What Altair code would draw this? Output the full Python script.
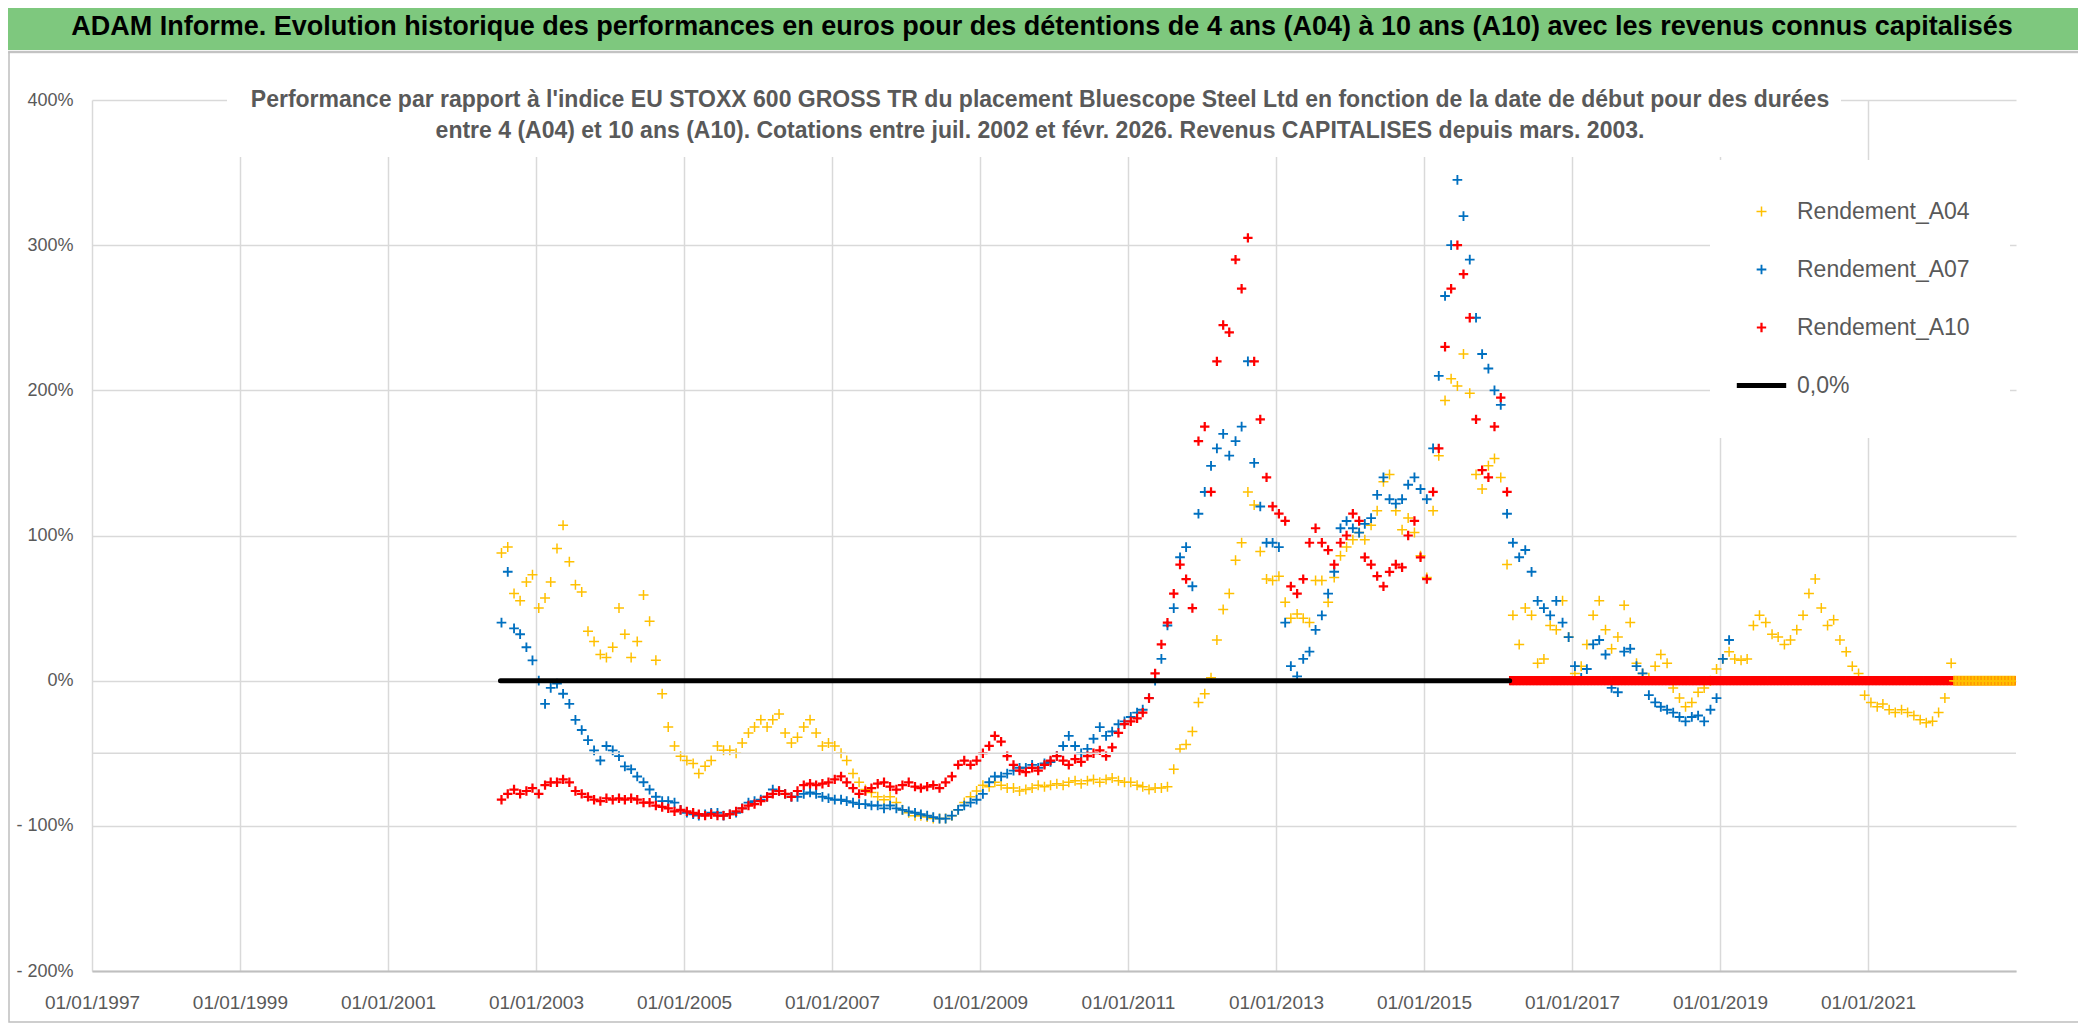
import altair as alt
import pandas as pd

# ---------------- data ----------------
TITLE = ("ADAM Informe. Evolution historique des performances en euros pour des "
         "détentions de 4 ans (A04) à 10 ans (A10) avec les revenus connus capitalisés")
SUB1 = ("Performance par rapport à l'indice EU STOXX 600 GROSS TR  du placement Bluescope "
        "Steel Ltd en fonction de la date de début pour des durées")
SUB2 = ("entre 4 (A04) et 10 ans (A10). Cotations entre juil. 2002 et févr. 2026. "
        "Revenus CAPITALISES depuis mars. 2003.")

SERIES = ["Rendement_A04", "Rendement_A07", "Rendement_A10", "0,0%"]
COLORS = ["#FFC000", "#0070C0", "#FF0000", "#000000"]

START = "2002-07-01"  # first monthly start date of every series

# Rendement_A04 (%), monthly from 2002-07
a04 = [88, 92, 60, 55, 68, 73,
       50, 57, 68, 91, 107, 82, 66, 61, 34, 27, 18, 16,
       23, 50, 32, 16, 27, 59, 41, 14, -9, -32, -45, -52,
       -55, -57, -64, -59, -55, -45, -48, -48, -50, -43, -36, -32,
       -27, -32, -27, -23, -36, -43, -39, -32, -27, -36, -45, -43,
       -45, -50, -55, -64, -70, -75, -77, -80, -82, -80, -84, -89,
       -91, -93, -93, -94, -95, -95, -95, -93, -89, -84, -80, -76,
       -72, -73, -70, -72, -74, -74, -76, -75, -74, -72, -73, -72,
       -71, -72, -70, -69, -71, -69, -68, -70, -68, -67, -69, -70,
       -70, -72, -73, -75, -74, -74, -73, -61, -47, -44, -35, -15,
       -9, 2, 28, 49, 60, 83, 95, 130, 121, 89, 70, 69,
       72, 54, 43, 46, 43, 40, 69, 69, 54, 71, 86, 92,
       97, 102, 97, 107, 117, 137, 142, 117, 104, 112, 102, 86,
       71, 117, 155, 193, 208, 203, 225, 198, 142, 132, 148, 153,
       140, 80, 45, 25, 50, 45, 12, 15, 38, 35, 55, 30,
       5, 10, 25, 45, 55, 35, 22, 30, 52, 40, 12, 5,
       2, 10, 18, 12, -5, -12, -18, -15, -8, -5, 0, 8,
       15, 20, 15, 14, 15, 38, 45, 40, 32, 30, 25, 28,
       35, 45, 60, 70, 50, 38, 42, 28, 20, 10, 5, -10,
       -15, -18, -16, -20, -22, -20, -22, -24, -27, -29, -28, -22,
       -12, 12]

# Rendement_A07 (%), monthly from 2002-07
a07 = [40, 75, 36, 32, 23, 14,
       0, -16, -5, -2, -9, -16, -27, -34, -41, -48, -55, -45,
       -48, -52, -59, -61, -66, -70, -75, -80, -83, -83, -84, -89,
       -91, -92, -93, -92, -91, -91, -93, -92, -91, -88, -84, -83,
       -82, -80, -75, -76, -78, -80, -80, -78, -77, -78, -80, -81,
       -82, -82, -83, -84, -85, -85, -86, -86, -88, -86, -88, -89,
       -90, -91, -92, -93, -94, -95, -95, -93, -89, -86, -84, -82,
       -78, -70, -66, -66, -64, -62, -60, -60, -58, -60, -57, -56,
       -52, -45, -38, -45, -50, -47, -40, -32, -38, -35, -30, -28,
       -25, -22, -20, -12, 0, 15, 38, 50, 85, 92, 65, 115,
       130, 148, 160, 170, 155, 165, 175, 220, 150, 120, 95, 95,
       92, 40, 10, 3, 15, 20, 35, 45, 60, 75, 105, 110,
       105, 102, 108, 112, 128, 140, 125, 122, 125, 135, 140, 132,
       125, 160, 210, 265, 300, 345, 320, 290, 250, 225, 215, 200,
       190, 115, 95, 85, 90, 75, 55, 50, 45, 55, 40, 30,
       10, 2, 8, 25, 28, 18, -5, -8, 20, 22, 10, 5,
       -10, -15, -18, -20, -22, -25, -28, -25, -24, -28, -20, -12,
       15, 28]

# Rendement_A10 (%), monthly from 2002-07
a10 = [-82, -78, -75, -78, -76, -74,
       -78, -72, -70, -70, -68, -70, -76, -78, -80, -82, -83, -81,
       -82, -81, -82, -81, -82, -84, -84, -86, -87, -88, -90, -89,
       -90, -91, -92, -93, -92, -93, -93, -92, -90, -88, -86, -85,
       -83, -80, -78, -76, -78, -80, -76, -72, -71, -72, -71, -70,
       -68, -66, -70, -74, -78, -76, -74, -71, -70, -73, -75, -72,
       -70, -73, -74, -73, -72, -74, -70, -66, -58, -55, -58, -55,
       -50, -45, -38, -42, -52, -58, -62, -63, -60, -62, -58, -55,
       -52, -55, -58, -54, -56, -52, -50, -48, -52, -46, -36, -30,
       -28, -26, -22, -12, 5, 25, 40, 60, 80, 70, 50, 165,
       175, 130, 220, 245, 240, 290, 270, 305, 220, 180, 140, 120,
       115, 110, 65, 60, 70, 95, 105, 95, 90, 80, 95, 100,
       115, 110, 85, 80, 72, 65, 75, 80, 78, 100, 110, 85,
       70, 130, 160, 230, 270, 300, 280, 250, 180, 145, 140, 175,
       195, 130]

# after its last start date the A10 series is plotted at 0 (weekly dates)
a10_zero_start, a10_zero_end = "2016-03-01", "2022-12-28"
a04_zero_start, a04_zero_end = "2022-03-01", "2022-12-28"

zero_line_dates = ["2002-07-10", "2016-02-28"]
zero_line_vals = [0, 0]

x_tick_years = list(range(1997, 2023, 2))
y_ticks = [-200, -100, 0, 100, 200, 300, 400]
extra_grid = [-50]

# ---------------- build tables ----------------
def monthly(values, name):
    d = pd.date_range(START, periods=len(values), freq="MS") + pd.Timedelta(days=14)
    return pd.DataFrame({"date": d.strftime("%Y-%m-%d"), "v": values, "serie": name})

def zeros(start, end, name):
    d = pd.date_range(start, end, freq="7D")
    return pd.DataFrame({"date": d.strftime("%Y-%m-%d"), "v": [0] * len(d), "serie": name})

pts = pd.concat([monthly(a04, SERIES[0]), monthly(a07, SERIES[1]), monthly(a10, SERIES[2]),
                 zeros(a10_zero_start, a10_zero_end, SERIES[2]),
                 zeros(a04_zero_start, a04_zero_end, SERIES[0])], ignore_index=True)

zl = pd.DataFrame({"date": zero_line_dates, "v": zero_line_vals})

W, H = 1924, 871
FONT = "Liberation Sans"
GREY = "#595959"

xscale = alt.Scale(type="utc",
                   domain=[alt.DateTime(year=1997, month=1, date=1, utc=True),
                           alt.DateTime(year=2023, month=1, date=1, utc=True)])
yscale = alt.Scale(domain=[-200, 400], nice=False)

PLUS = "M-1,0L1,0M0,-1L0,1"
LINE = "M-5.2,-0.25L5.2,-0.25L5.2,0.25L-5.2,0.25Z"

xaxis = alt.Axis(values=[alt.DateTime(year=y, month=1, date=1, utc=True) for y in x_tick_years],
                 format="%d/%m/%Y", title=None, grid=True, gridColor="#D9D9D9", gridWidth=1.5,
                 ticks=False, domainColor="#BFBFBF", domainWidth=2, labelFont=FONT,
                 labelFontSize=19, labelColor=GREY, labelPadding=22, labelFlush=False,
                 labelOverlap=False)
yaxis = alt.Axis(values=y_ticks, title=None, grid=True, gridColor="#D9D9D9", gridWidth=1.5,
                 ticks=False, domain=False, labelFont=FONT, labelFontSize=18, labelColor=GREY,
                 labelPadding=19,
                 labelExpr="datum.value < 0 ? '- ' + (-datum.value) + '%' : datum.value + '%'")

legend = alt.Legend(title=None, orient="none", legendX=1618, legendY=60, fillColor="white",
                    padding=40, labelFont=FONT, labelFontSize=23, labelColor=GREY,
                    labelOffset=24, rowPadding=34, symbolSize=81, symbolStrokeWidth=2,
                    labelLimit=0)

points = alt.Chart(pts).mark_point(filled=False, clip=True, opacity=1).encode(
    x=alt.X("date:T", scale=xscale, axis=xaxis),
    y=alt.Y("v:Q", scale=yscale, axis=yaxis),
    color=alt.Color("serie:N", scale=alt.Scale(domain=SERIES, range=COLORS), legend=legend),
    shape=alt.Shape("serie:N", scale=alt.Scale(domain=SERIES, range=[PLUS, PLUS, PLUS, LINE]),
                    legend=legend),
    strokeWidth=alt.StrokeWidth("serie:N", scale=alt.Scale(domain=SERIES, range=[1.5, 2.6, 2.6, 4]),
                                legend=None),
    size=alt.Size("serie:N", scale=alt.Scale(domain=SERIES, range=[100, 81, 81, 81]), legend=None),
)

zero_line = alt.Chart(zl).mark_line(color="black", strokeWidth=5, strokeCap="round").encode(
    x=alt.X("date:T", scale=xscale, axis=xaxis), y=alt.Y("v:Q", scale=yscale, axis=yaxis))

grid50 = alt.Chart(pd.DataFrame({"v": extra_grid})).mark_rule(color="#D9D9D9", strokeWidth=1.5).encode(
    y=alt.Y("v:Q", scale=yscale, axis=yaxis), x=alt.value(0), x2=alt.value(W))

one = pd.DataFrame({"k": [0]})
band = alt.Chart(one).mark_rect(color="#7EC87E").encode(
    x=alt.value(-84), x2=alt.value(1994), y=alt.value(-92), y2=alt.value(-50))
band_line = alt.Chart(one).mark_rule(color="#D0D0D0", strokeWidth=2.5).encode(
    x=alt.value(-84), x2=alt.value(1988), y=alt.value(-48))
frame = alt.Chart(one).mark_rect(fill=None, stroke="#BFBFBF", strokeWidth=1.5).encode(
    x=alt.value(-83), x2=alt.value(1988), y=alt.value(-48), y2=alt.value(922))
title = alt.Chart(pd.DataFrame({"t": [TITLE]})).mark_text(
    font=FONT, fontSize=27, fontWeight="bold", color="black", baseline="middle", align="center"
).encode(text="t:N", x=alt.value(950), y=alt.value(-73))
sub_bg = alt.Chart(one).mark_rect(color="white").encode(
    x=alt.value(135), x2=alt.value(1749), y=alt.value(-25), y2=alt.value(57))
sub1 = alt.Chart(pd.DataFrame({"t": [SUB1]})).mark_text(
    font=FONT, fontSize=23, fontWeight="bold", color=GREY, baseline="middle", align="center"
).encode(text="t:N", x=alt.value(948), y=alt.value(0))
sub2 = alt.Chart(pd.DataFrame({"t": [SUB2]})).mark_text(
    font=FONT, fontSize=23, fontWeight="bold", color=GREY, baseline="middle", align="center"
).encode(text="t:N", x=alt.value(948), y=alt.value(31))

chart = alt.layer(points, zero_line, grid50, band, band_line, frame, sub_bg, sub1, sub2, title).properties(
    width=W, height=H, background="white",
    padding={"left": 84, "top": 92, "right": 62, "bottom": 52},
    autosize=alt.AutoSizeParams(type="none"),
).configure_view(stroke=None)

chart.save("out.html", embed_options={"renderer": "svg", "actions": False})
